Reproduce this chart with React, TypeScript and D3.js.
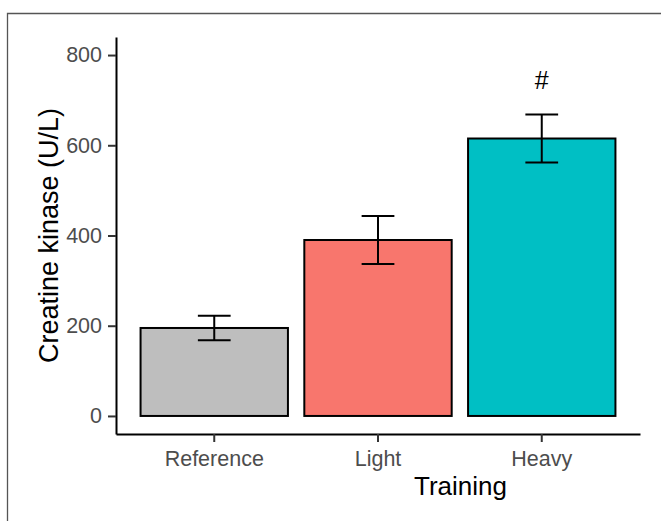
import React, { useRef, useEffect } from "react";
import * as d3 from "d3";

const groups = ["Reference", "Light", "Heavy"];
const means = [195, 390, 615];
const errors = [27, 53, 53];
const fills = ["#BEBEBE", "#F8766D", "#00BFC4"];
const marks = [{ group: "Heavy", value: 725, label: "#" }];
const yTicks = [0, 200, 400, 600, 800];

const FONT = "'Liberation Sans', Arial, sans-serif";

const App = () => {
  const ref = useRef<SVGSVGElement>(null);

  useEffect(() => {
    const svg = d3.select(ref.current);
    svg.selectAll("*").remove();

    const W = 661;
    const H = 521;
    const left = 116;
    const right = 640;
    const top = 37;
    const bottom = 434;

    svg.attr("width", W).attr("height", H);

    // outer frame (only top and left are visible in the picture)
    svg
      .append("path")
      .attr("d", `M7.5,${H} L7.5,13.5 L${W},13.5`)
      .attr("fill", "none")
      .attr("stroke", "#555")
      .attr("stroke-width", 1.3);

    const x = d3
      .scaleBand()
      .domain(groups)
      .range([left, right])
      .paddingInner(0.1)
      .paddingOuter(0.15);
    const step = x.step();
    const y = d3.scaleLinear().domain([-40, 840]).range([bottom, top]);

    const data = groups.map((g, i) => ({
      group: g,
      mean: means[i],
      err: errors[i],
      fill: fills[i],
    }));

    // bars
    svg
      .append("g")
      .selectAll("rect")
      .data(data)
      .enter()
      .append("rect")
      .attr("x", (d) => x(d.group)!)
      .attr("y", (d) => y(d.mean))
      .attr("width", x.bandwidth())
      .attr("height", (d) => y(0) - y(d.mean))
      .attr("fill", (d) => d.fill)
      .attr("stroke", "#000")
      .attr("stroke-width", 2);

    // error bars
    const eb = svg
      .append("g")
      .attr("stroke", "#000")
      .attr("stroke-width", 2)
      .attr("fill", "none");
    const cap = step * 0.2;
    data.forEach((d) => {
      const cx = x(d.group)! + x.bandwidth() / 2;
      const y0 = y(d.mean - d.err);
      const y1 = y(d.mean + d.err);
      eb.append("path").attr(
        "d",
        `M${cx - cap / 2},${y1} H${cx + cap / 2} M${cx},${y1} V${y0} M${cx - cap / 2},${y0} H${cx + cap / 2}`
      );
    });

    // significance marks
    svg
      .append("g")
      .selectAll("text")
      .data(marks)
      .enter()
      .append("text")
      .attr("x", (d) => x(d.group)! + x.bandwidth() / 2)
      .attr("y", (d) => y(d.value))
      .attr("text-anchor", "middle")
      .attr("font-family", FONT)
      .attr("font-size", 25)
      .attr("fill", "#000")
      .text((d) => d.label);

    // axes
    const yAxis = svg
      .append("g")
      .attr("transform", `translate(${left},0)`)
      .call(
        d3.axisLeft(y).tickValues(yTicks).tickSize(8).tickSizeOuter(0).tickPadding(6)
      );
    const xAxis = svg
      .append("g")
      .attr("transform", `translate(0,${bottom})`)
      .call(d3.axisBottom(x).tickSize(8).tickSizeOuter(0).tickPadding(9));

    [yAxis, xAxis].forEach((a) => {
      a.select(".domain").attr("stroke", "#000").attr("stroke-width", 2);
      a.selectAll(".tick line").attr("stroke", "#333").attr("stroke-width", 2);
      a.selectAll(".tick text")
        .attr("fill", "#4D4D4D")
        .attr("font-family", FONT)
        .attr("font-size", 21.5);
    });

    // axis titles
    svg
      .append("text")
      .attr("transform", `translate(58,${(top + bottom) / 2}) rotate(-90)`)
      .attr("text-anchor", "middle")
      .attr("font-family", FONT)
      .attr("font-size", 27)
      .attr("fill", "#000")
      .text("Creatine kinase (U/L)");
    svg
      .append("text")
      .attr("x", 460.5)
      .attr("y", 495)
      .attr("text-anchor", "middle")
      .attr("font-family", FONT)
      .attr("font-size", 26)
      .attr("fill", "#000")
      .text("Training");
  }, []);

  return (
    <svg
      ref={ref}
      style={{ display: "block", position: "absolute", left: 0, top: 0, background: "#fff" }}
    />
  );
};

export default App;
